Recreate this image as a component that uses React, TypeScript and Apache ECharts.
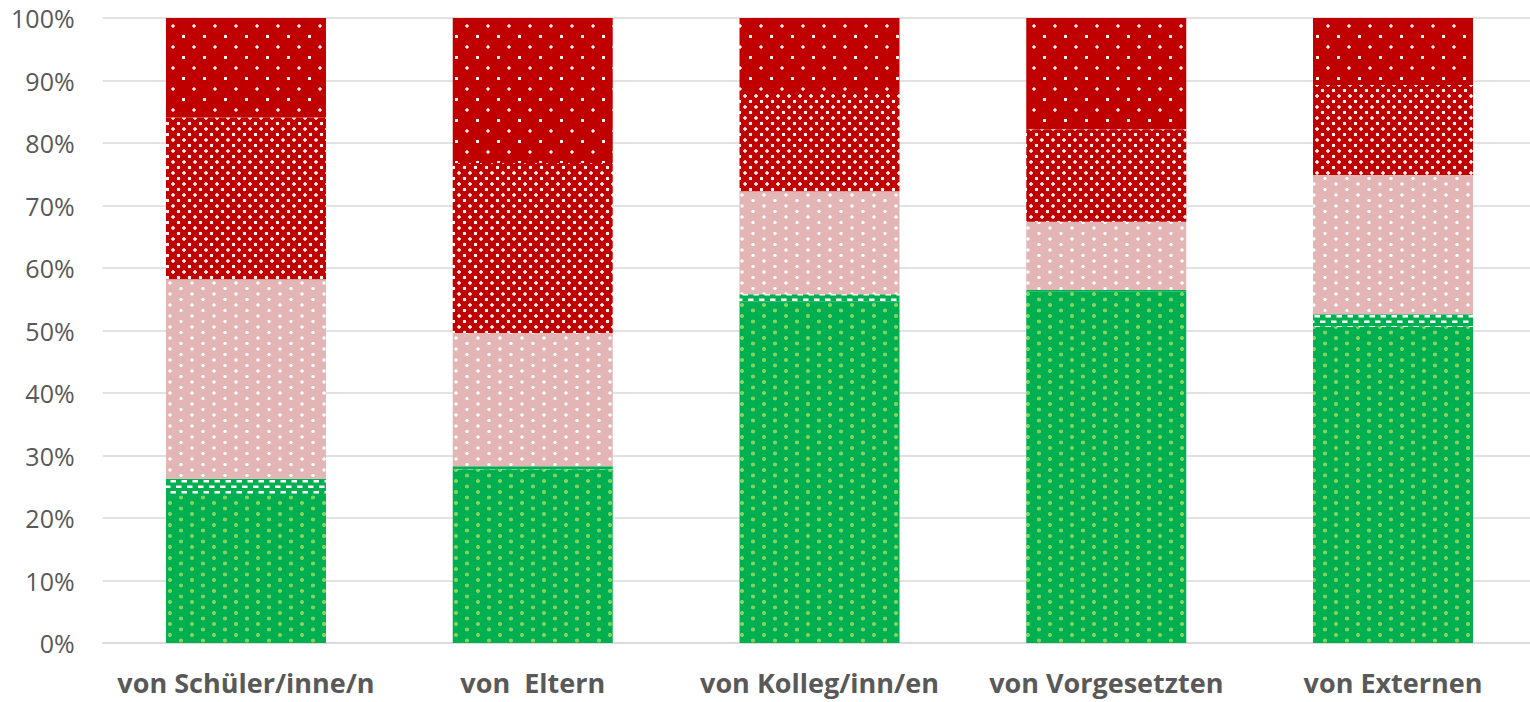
import React, { useEffect, useRef } from "react";
import * as echarts from "echarts";

const categories = [
  "von Schüler/inne/n",
  "von  Eltern",
  "von Kolleg/inn/en",
  "von Vorgesetzten",
  "von Externen",
];
const yTicks = [0, 10, 20, 30, 40, 50, 60, 70, 80, 90, 100];

const seriesGreen = [23.7, 27.8, 54.7, 56.2, 50.6];
const seriesBand = [2.6, 0.5, 1.1, 0.3, 2.0];
const seriesPink = [31.9, 21.3, 16.5, 10.9, 22.3];
const seriesRedDense = [25.9, 27.2, 15.7, 14.8, 14.4];
const seriesRedSparse = [15.9, 23.2, 12.0, 17.8, 10.7];

type Dot = [number, number];

function dotTile(w: number, h: number, bg: string, dots: Dot[], r: number, dotColor: string, blur = 0.6) {
  const c = document.createElement("canvas");
  c.width = w;
  c.height = h;
  const ctx = c.getContext("2d")!;
  ctx.fillStyle = bg;
  ctx.fillRect(0, 0, w, h);
  for (const [x, y] of dots) {
    const g = ctx.createRadialGradient(x, y, 0, x, y, r + blur);
    g.addColorStop(0, dotColor);
    g.addColorStop(r / (r + blur), dotColor);
    g.addColorStop(1, "rgba(255,255,255,0)");
    ctx.fillStyle = g;
    ctx.beginPath();
    ctx.arc(x, y, r + blur, 0, Math.PI * 2);
    ctx.fill();
  }
  return { image: c, repeat: "repeat" } as any;
}

function dashTile(w: number, h: number, bg: string, rects: number[][], color: string) {
  const c = document.createElement("canvas");
  c.width = w;
  c.height = h;
  const ctx = c.getContext("2d")!;
  ctx.fillStyle = bg;
  ctx.fillRect(0, 0, w, h);
  ctx.fillStyle = color;
  for (const [x, y, rw, rh] of rects) ctx.fillRect(x, y, rw, rh);
  return { image: c, repeat: "repeat" } as any;
}

export default function App() {
  const ref = useRef<HTMLDivElement>(null);
  useEffect(() => {
    if (!ref.current) return;
    const chart = echarts.init(ref.current, undefined, { renderer: "svg" });

    const green = dotTile(22, 11, "#00B050", [[5, 2.5], [16, 8]], 1.5, "rgba(150,215,80,0.9)", 0.8);
    const band = dashTile(11, 11, "#00B050", [[0, 1.5, 5.5, 2.5], [5.5, 7, 5.5, 2.5]], "#FFFFFF");
    const pink = dotTile(22, 11, "#E4B5B5", [[5, 2.5], [16, 8]], 1.4, "rgba(255,255,255,1)", 0.6);
    const redDense = dotTile(11, 11, "#C00000", [[2.5, 2.5], [8, 8]], 1.5, "rgba(255,240,240,1)", 0.6);
    const redSparse = dotTile(21, 21, "#C00000", [[5, 5], [15.5, 15.5]], 1.4, "rgba(255,245,245,1)", 0.6);

    const mk = (name: string, data: number[], color: any) => ({
      name,
      type: "bar",
      stack: "total",
      barWidth: 160,
      data,
      itemStyle: { color },
      emphasis: { disabled: true },
    });

    chart.setOption({
      animation: false,
      grid: {
        left: 102.6,
        width: 1433.8,
        top: 18,
        bottom: 59,
        containLabel: false,
        outerBoundsMode: "none",
      },
      xAxis: {
        type: "category",
        data: categories,
        axisTick: { show: false },
        axisLine: { show: true, lineStyle: { color: "#D9D9D9", width: 1.5 } },
        axisLabel: {
          color: "#595959",
          fontFamily: "Open Sans",
          fontWeight: "bold",
          fontSize: 27,
          lineHeight: 28,
          margin: 25,
          interval: 0,
        },
      },
      yAxis: {
        type: "value",
        min: yTicks[0],
        max: yTicks[yTicks.length - 1],
        interval: 10,
        axisLine: { show: false },
        axisTick: { show: false },
        splitLine: { lineStyle: { color: "#D9D9D9", width: 1.5 } },
        axisLabel: {
          color: "#595959",
          fontFamily: "Open Sans",
          fontSize: 25,
          margin: 28,
          formatter: "{value}%",
        },
      },
      series: [
        mk("Serie 1", seriesGreen, green),
        mk("Serie 2", seriesBand, band),
        mk("Serie 3", seriesPink, pink),
        mk("Serie 4", seriesRedDense, redDense),
        mk("Serie 5", seriesRedSparse, redSparse),
      ],
    });
    return () => chart.dispose();
  }, []);
  return (
    <div
      ref={ref}
      style={{ position: "fixed", left: 0, top: 0, width: 1530, height: 702, background: "#fff" }}
    />
  );
}
